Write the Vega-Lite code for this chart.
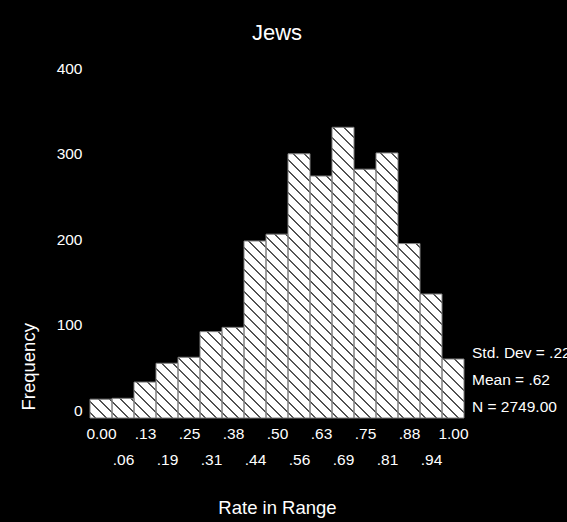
{
  "$schema": "https://vega.github.io/schema/vega-lite/v6.json",
  "width": 374,
  "height": 342,
  "autosize": {"type": "none"},
  "padding": {"left": 90, "top": 76, "right": 103, "bottom": 104},
  "background": "black",
  "config": {
    "view": {"stroke": null},
    "font": "Liberation Sans",
    "axis": {
      "domain": false, "ticks": false, "grid": false,
      "labelColor": "white", "titleColor": "white",
      "labelFontSize": 15.5, "titleFontSize": 18.5, "titleFontWeight": "normal",
      "labelFont": "Liberation Sans", "titleFont": "Liberation Sans"
    }
  },
  "title": {"text": "Jews", "color": "white", "fontSize": 22, "fontWeight": "normal", "offset": 16, "frame": "group", "anchor": "middle", "font": "Liberation Sans"},
  "data": {"values": [
    {"lo": -0.03125, "hi": 0.03125, "count": 22},
    {"lo": 0.03125, "hi": 0.09375, "count": 23},
    {"lo": 0.09375, "hi": 0.15625, "count": 42},
    {"lo": 0.15625, "hi": 0.21875, "count": 64},
    {"lo": 0.21875, "hi": 0.28125, "count": 71},
    {"lo": 0.28125, "hi": 0.34375, "count": 101},
    {"lo": 0.34375, "hi": 0.40625, "count": 106},
    {"lo": 0.40625, "hi": 0.46875, "count": 207},
    {"lo": 0.46875, "hi": 0.53125, "count": 215},
    {"lo": 0.53125, "hi": 0.59375, "count": 309},
    {"lo": 0.59375, "hi": 0.65625, "count": 283},
    {"lo": 0.65625, "hi": 0.71875, "count": 340},
    {"lo": 0.71875, "hi": 0.78125, "count": 291},
    {"lo": 0.78125, "hi": 0.84375, "count": 310},
    {"lo": 0.84375, "hi": 0.90625, "count": 204},
    {"lo": 0.90625, "hi": 0.96875, "count": 145},
    {"lo": 0.96875, "hi": 1.03125, "count": 69}
  ]},
  "resolve": {"axis": {"x": "independent", "y": "independent"}},
  "layer": [
    {
      "mark": {"type": "rect", "fill": {"gradient": "linear", "x1": 0, "y1": 1, "x2": 0.0681833, "y2": -0.059932, "stops": [
        {"offset": 0, "color": "#ffffff"},
        {"offset": 0.0121, "color": "#ffffff"}, {"offset": 0.0143, "color": "#1a1a1a"}, {"offset": 0.0159, "color": "#1a1a1a"}, {"offset": 0.0181, "color": "#ffffff"},
        {"offset": 0.0423, "color": "#ffffff"}, {"offset": 0.0445, "color": "#1a1a1a"}, {"offset": 0.0462, "color": "#1a1a1a"}, {"offset": 0.0484, "color": "#ffffff"},
        {"offset": 0.0725, "color": "#ffffff"}, {"offset": 0.0747, "color": "#1a1a1a"}, {"offset": 0.0764, "color": "#1a1a1a"}, {"offset": 0.0786, "color": "#ffffff"},
        {"offset": 0.1027, "color": "#ffffff"}, {"offset": 0.1049, "color": "#1a1a1a"}, {"offset": 0.1066, "color": "#1a1a1a"}, {"offset": 0.1088, "color": "#ffffff"},
        {"offset": 0.1330, "color": "#ffffff"}, {"offset": 0.1352, "color": "#1a1a1a"}, {"offset": 0.1368, "color": "#1a1a1a"}, {"offset": 0.1390, "color": "#ffffff"},
        {"offset": 0.1632, "color": "#ffffff"}, {"offset": 0.1654, "color": "#1a1a1a"}, {"offset": 0.1670, "color": "#1a1a1a"}, {"offset": 0.1692, "color": "#ffffff"},
        {"offset": 0.1934, "color": "#ffffff"}, {"offset": 0.1956, "color": "#1a1a1a"}, {"offset": 0.1973, "color": "#1a1a1a"}, {"offset": 0.1995, "color": "#ffffff"},
        {"offset": 0.2236, "color": "#ffffff"}, {"offset": 0.2258, "color": "#1a1a1a"}, {"offset": 0.2275, "color": "#1a1a1a"}, {"offset": 0.2297, "color": "#ffffff"},
        {"offset": 0.2538, "color": "#ffffff"}, {"offset": 0.2560, "color": "#1a1a1a"}, {"offset": 0.2577, "color": "#1a1a1a"}, {"offset": 0.2599, "color": "#ffffff"},
        {"offset": 0.2841, "color": "#ffffff"}, {"offset": 0.2863, "color": "#1a1a1a"}, {"offset": 0.2879, "color": "#1a1a1a"}, {"offset": 0.2901, "color": "#ffffff"},
        {"offset": 0.3143, "color": "#ffffff"}, {"offset": 0.3165, "color": "#1a1a1a"}, {"offset": 0.3181, "color": "#1a1a1a"}, {"offset": 0.3203, "color": "#ffffff"},
        {"offset": 0.3445, "color": "#ffffff"}, {"offset": 0.3467, "color": "#1a1a1a"}, {"offset": 0.3484, "color": "#1a1a1a"}, {"offset": 0.3505, "color": "#ffffff"},
        {"offset": 0.3747, "color": "#ffffff"}, {"offset": 0.3769, "color": "#1a1a1a"}, {"offset": 0.3786, "color": "#1a1a1a"}, {"offset": 0.3808, "color": "#ffffff"},
        {"offset": 0.4049, "color": "#ffffff"}, {"offset": 0.4071, "color": "#1a1a1a"}, {"offset": 0.4088, "color": "#1a1a1a"}, {"offset": 0.4110, "color": "#ffffff"},
        {"offset": 0.4352, "color": "#ffffff"}, {"offset": 0.4374, "color": "#1a1a1a"}, {"offset": 0.4390, "color": "#1a1a1a"}, {"offset": 0.4412, "color": "#ffffff"},
        {"offset": 0.4654, "color": "#ffffff"}, {"offset": 0.4676, "color": "#1a1a1a"}, {"offset": 0.4692, "color": "#1a1a1a"}, {"offset": 0.4714, "color": "#ffffff"},
        {"offset": 0.4956, "color": "#ffffff"}, {"offset": 0.4978, "color": "#1a1a1a"}, {"offset": 0.4995, "color": "#1a1a1a"}, {"offset": 0.5016, "color": "#ffffff"},
        {"offset": 0.5258, "color": "#ffffff"}, {"offset": 0.5280, "color": "#1a1a1a"}, {"offset": 0.5297, "color": "#1a1a1a"}, {"offset": 0.5319, "color": "#ffffff"},
        {"offset": 0.5560, "color": "#ffffff"}, {"offset": 0.5582, "color": "#1a1a1a"}, {"offset": 0.5599, "color": "#1a1a1a"}, {"offset": 0.5621, "color": "#ffffff"},
        {"offset": 0.5863, "color": "#ffffff"}, {"offset": 0.5885, "color": "#1a1a1a"}, {"offset": 0.5901, "color": "#1a1a1a"}, {"offset": 0.5923, "color": "#ffffff"},
        {"offset": 0.6165, "color": "#ffffff"}, {"offset": 0.6187, "color": "#1a1a1a"}, {"offset": 0.6203, "color": "#1a1a1a"}, {"offset": 0.6225, "color": "#ffffff"},
        {"offset": 0.6467, "color": "#ffffff"}, {"offset": 0.6489, "color": "#1a1a1a"}, {"offset": 0.6505, "color": "#1a1a1a"}, {"offset": 0.6527, "color": "#ffffff"},
        {"offset": 0.6769, "color": "#ffffff"}, {"offset": 0.6791, "color": "#1a1a1a"}, {"offset": 0.6808, "color": "#1a1a1a"}, {"offset": 0.6830, "color": "#ffffff"},
        {"offset": 0.7071, "color": "#ffffff"}, {"offset": 0.7093, "color": "#1a1a1a"}, {"offset": 0.7110, "color": "#1a1a1a"}, {"offset": 0.7132, "color": "#ffffff"},
        {"offset": 0.7374, "color": "#ffffff"}, {"offset": 0.7396, "color": "#1a1a1a"}, {"offset": 0.7412, "color": "#1a1a1a"}, {"offset": 0.7434, "color": "#ffffff"},
        {"offset": 0.7676, "color": "#ffffff"}, {"offset": 0.7698, "color": "#1a1a1a"}, {"offset": 0.7714, "color": "#1a1a1a"}, {"offset": 0.7736, "color": "#ffffff"},
        {"offset": 0.7978, "color": "#ffffff"}, {"offset": 0.8000, "color": "#1a1a1a"}, {"offset": 0.8016, "color": "#1a1a1a"}, {"offset": 0.8038, "color": "#ffffff"},
        {"offset": 0.8280, "color": "#ffffff"}, {"offset": 0.8302, "color": "#1a1a1a"}, {"offset": 0.8319, "color": "#1a1a1a"}, {"offset": 0.8341, "color": "#ffffff"},
        {"offset": 0.8582, "color": "#ffffff"}, {"offset": 0.8604, "color": "#1a1a1a"}, {"offset": 0.8621, "color": "#1a1a1a"}, {"offset": 0.8643, "color": "#ffffff"},
        {"offset": 0.8885, "color": "#ffffff"}, {"offset": 0.8907, "color": "#1a1a1a"}, {"offset": 0.8923, "color": "#1a1a1a"}, {"offset": 0.8945, "color": "#ffffff"},
        {"offset": 0.9187, "color": "#ffffff"}, {"offset": 0.9209, "color": "#1a1a1a"}, {"offset": 0.9225, "color": "#1a1a1a"}, {"offset": 0.9247, "color": "#ffffff"},
        {"offset": 0.9489, "color": "#ffffff"}, {"offset": 0.9511, "color": "#1a1a1a"}, {"offset": 0.9527, "color": "#1a1a1a"}, {"offset": 0.9549, "color": "#ffffff"},
        {"offset": 0.9791, "color": "#ffffff"}, {"offset": 0.9813, "color": "#1a1a1a"}, {"offset": 0.9830, "color": "#1a1a1a"}, {"offset": 0.9852, "color": "#ffffff"},
        {"offset": 1, "color": "#ffffff"}
      ]}},
      "encoding": {
        "x": {"field": "lo", "type": "quantitative", "scale": {"domain": [-0.03125, 1.03125], "nice": false, "zero": false},
          "axis": {"orient": "bottom", "offset": 26, "values": [0.0625, 0.1875, 0.3125, 0.4375, 0.5625, 0.6875, 0.8125, 0.9375],
            "labelExpr": "datum.value == 0 ? '0.00' : replace(format(datum.value, '.2f'), '0.', '.')",
            "labelPadding": 8, "labelFlush": false, "labelOverlap": false, "title": "Rate in Range", "titlePadding": 31}},
        "x2": {"field": "hi"},
        "y": {"datum": 0, "type": "quantitative", "scale": {"domain": [0, 400], "nice": false}, "axis": null},
        "y2": {"datum": 400}
      }
    },
    {
      "mark": {"type": "rect", "fill": "black"},
      "encoding": {
        "x": {"field": "lo", "type": "quantitative", "scale": {"domain": [-0.03125, 1.03125], "nice": false, "zero": false}, "axis": null},
        "x2": {"field": "hi"},
        "y": {"field": "count", "type": "quantitative", "scale": {"domain": [0, 400], "nice": false}, "axis": null},
        "y2": {"datum": 400}
      }
    },
    {
      "mark": {"type": "rect", "fillOpacity": 0, "stroke": "#808080", "strokeWidth": 1},
      "encoding": {
        "x": {"field": "lo", "type": "quantitative", "scale": {"domain": [-0.03125, 1.03125], "nice": false, "zero": false},
          "axis": {"orient": "bottom", "values": [0, 0.125, 0.25, 0.375, 0.5, 0.625, 0.75, 0.875, 1],
            "labelExpr": "datum.value == 0 ? '0.00' : replace(format(datum.value, '.2f'), '0.', '.')",
            "labelPadding": 8, "labelFlush": false, "labelOverlap": false, "title": null}},
        "x2": {"field": "hi"},
        "y": {"field": "count", "type": "quantitative", "scale": {"domain": [0, 400], "nice": false},
          "axis": {"orient": "left", "values": [0, 100, 200, 300, 400], "title": "Frequency", "labelPadding": 8, "labelOffset": -8, "labelFlush": false, "labelOverlap": false, "titlePadding": 18, "titleAnchor": "start", "titleY": 334}},
        "y2": {"datum": 0}
      }
    },
    {
      "data": {"values": [{}]},
      "mark": {"type": "text", "text": ["Std. Dev = .22", "Mean = .62", "N = 2749.00"], "align": "left", "baseline": "bottom", "lineHeight": 27, "fontSize": 15.5, "color": "white", "dx": 8, "dy": -57, "font": "Liberation Sans"},
      "encoding": {
        "x": {"datum": 1.03125, "type": "quantitative", "scale": {"domain": [-0.03125, 1.03125], "nice": false, "zero": false}, "axis": null},
        "y": {"datum": 0, "type": "quantitative", "scale": {"domain": [0, 400], "nice": false}, "axis": null}
      }
    }
  ]
}
